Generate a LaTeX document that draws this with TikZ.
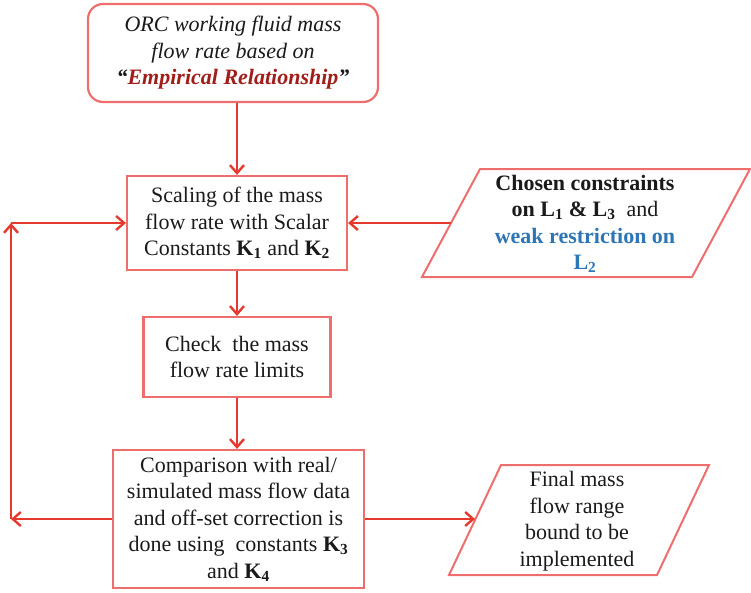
\documentclass[tikz,border=0pt]{standalone}
\usepackage{fontspec}
\setmainfont{Liberation Serif}
\usetikzlibrary{arrows.meta}
\definecolor{boxred}{HTML}{EE6E6E}
\definecolor{arrred}{HTML}{E5392E}
\definecolor{darkred}{HTML}{A01E1A}
\definecolor{myblue}{HTML}{2E75B6}
\definecolor{txt}{HTML}{1A1A1A}
\begin{document}
\begin{tikzpicture}[x=1pt,y=-1pt,
  every node/.style={font=\fontsize{22}{26.5}\selectfont, text=txt, align=center, inner sep=0pt},
  procbox/.style={draw=boxred, line width=2.2pt, minimum width=#1},
  startbox/.style={draw=boxred, line width=2.2pt, rounded corners=15pt},
  para/.style={draw=boxred, line width=2pt},
  arr/.style={draw=arrred, line width=2.4pt, -{Straight Barb[length=8pt,width=14pt,line width=2.4pt]}}]
\useasboundingbox (0,0) rectangle (751,592);

% start box
\node[startbox, minimum width=290pt, minimum height=98pt] (start) at (233,53)
  {\itshape ORC working fluid mass\\ \itshape flow rate based on\\
   \bfseries\itshape ``\textcolor{darkred}{Empirical Relationship}''};

% scaling box
\node[procbox=220pt, minimum height=94pt] (scale) at (237,223)
  {Scaling of the mass\\ flow rate with Scalar\\ Constants \textbf{K\textsubscript{1}} and \textbf{K\textsubscript{2}}};

% check box
\node[procbox=187pt, minimum height=80pt] (check) at (237,357)
  {Check\ \ the mass\\ flow rate limits};

% comparison box
\node[procbox=251pt, minimum height=138pt] (comp) at (238.5,519)
  {Comparison with real/\\ simulated mass flow data\\ and off-set correction is\\ done using\ \ constants \textbf{K\textsubscript{3}}\\ and \textbf{K\textsubscript{4}}};

% constraints parallelogram
\coordinate (c1) at (480,169);
\coordinate (c2) at (750,169);
\coordinate (c3) at (692,277);
\coordinate (c4) at (422,277);
\draw[para] (c1) -- (c2) -- (c3) -- (c4) -- cycle;
\node (constr) at (585,224)
  {\textbf{Chosen constraints}\\ \textbf{on L\textsubscript{1} \& L\textsubscript{3}}\ \ and\\
   \textcolor{myblue}{\textbf{weak restriction on}}\\ \textcolor{myblue}{\textbf{L\textsubscript{2}}}};
\coordinate (constrL) at (451,223);

% final parallelogram
\coordinate (f1) at (501,465);
\coordinate (f2) at (709,465);
\coordinate (f3) at (657,575);
\coordinate (f4) at (449,575);
\draw[para] (f1) -- (f2) -- (f3) -- (f4) -- cycle;
\node (final) at (577,521) {Final mass\\ flow range\\ bound to be\\ implemented};
\coordinate (finalL) at (475,519);

% connectors
\draw[arr] (start.south -| scale.north) -- (scale.north);
\draw[arr] (scale.south) -- (check.north);
\draw[arr] (check.south) -- (check.south |- comp.north);
\draw[arr] (constrL) -- (scale.east);
\draw[arr] (comp.east) -- (finalL);

\coordinate (lb) at (11,519);
\coordinate (lt) at (11,223);
\draw[arr] (comp.west) -- (lb);
\draw[arr] (lb) -- (lt);
\draw[arr] (lt) -- (scale.west);
\end{tikzpicture}
\end{document}
